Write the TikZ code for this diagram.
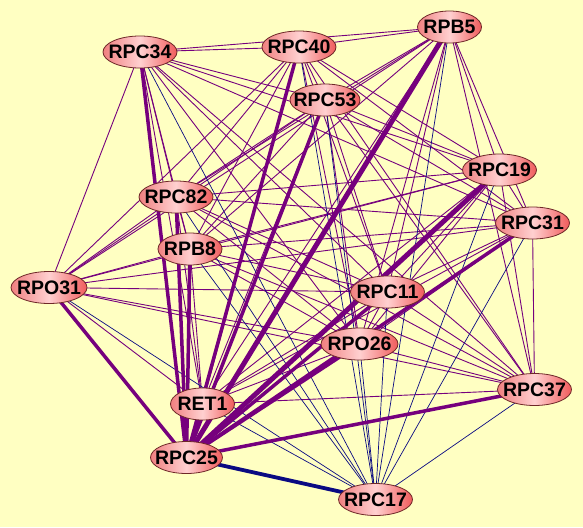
\documentclass[tikz,border=0pt]{standalone}
\usepackage{fontspec}
\setmainfont{Liberation Sans}
\usetikzlibrary{shapes.geometric,backgrounds}
\definecolor{bgy}{RGB}{255,255,194}
\definecolor{edgep}{RGB}{118,0,125}
\definecolor{edgeb}{RGB}{10,10,130}
\definecolor{nbord}{RGB}{110,40,40}
\definecolor{nl}{RGB}{240,128,128}
\definecolor{nm}{RGB}{255,208,208}
\definecolor{nr}{RGB}{240,92,92}
\begin{document}
\begin{tikzpicture}[x=1pt,y=-1pt,
 gn/.style={ellipse, draw=nbord, line width=0.8pt, left color=nl, right color=nr, middle color=nm,
   minimum width=74pt, minimum height=32pt, inner sep=0pt, font=\fontsize{19.5}{19.5}\selectfont\bfseries},
 gs/.style={gn, minimum width=64pt},
 thinp/.style={draw=edgep, line width=0.9pt},
 thickp/.style={draw=edgep, line width=3.5pt},
 thinb/.style={draw=edgeb, line width=0.7pt},
 thickb/.style={draw=edgeb, line width=3.8pt}]
\useasboundingbox (0,0) rectangle (583,527);
\node[gn] (c34) at (140,52)    {\makebox[0pt]{RPC34}};
\node[gn] (c40) at (299,47)    {\makebox[0pt]{RPC40}};
\node[gs] (b5)  at (449.5,27)  {\makebox[0pt]{RPB5}};
\node[gn, minimum width=70pt] (c53) at (325,100) {\makebox[0pt]{RPC53}};
\node[gn] (c19) at (499.5,170) {\makebox[0pt]{RPC19}};
\node[gn] (c82) at (176,197)   {\makebox[0pt]{RPC82}};
\node[gn] (c31) at (532.5,223) {\makebox[0pt]{RPC31}};
\node[gs] (b8)  at (190,249)   {\makebox[0pt]{RPB8}};
\node[gn, minimum width=76pt] (o31) at (49,287.5) {\makebox[0pt]{RPO31}};
\node[gn] (c11) at (387.5,292) {\makebox[0pt]{RPC11}};
\node[gn, minimum width=77pt] (o26) at (359.5,344) {\makebox[0pt]{RPO26}};
\node[gn] (c37) at (534.5,389.5) {\makebox[0pt]{RPC37}};
\node[gs] (e1)  at (202.5,404) {\makebox[0pt]{RET1}};
\node[gn, minimum width=72pt] (c25) at (186.5,457.5) {\makebox[0pt]{RPC25}};
\node[gn] (c17) at (375.5,499.5) {\makebox[0pt]{RPC17}};
\begin{scope}[on background layer]
\fill[bgy] (0,0) rectangle (583,527);
\foreach \a [count=\i] in {c34,c40,b5,c53,c19,c82,c31,b8,o31,c11,o26,c37,e1}{
  \foreach \b [count=\j] in {c34,c40,b5,c53,c19,c82,c31,b8,o31,c11,o26,c37,e1}{
    \ifnum\j>\i \draw[thinp] (\a.center) -- (\b.center); \fi
  }
}
\foreach \a in {c34,c40,b5,c53,c19,c82,c31,b8,o31,c11,o26,c37,e1}{
  \draw[thinb] (\a.center) -- (c17.center);
}
\foreach \a in {c34,c40,c53,c31,c37,o31,c82,b8,e1,c11,o26}{
  \draw[thickp] (\a.center) -- (c25.center);
}
\draw[thickp, line width=5pt] (b5.center) -- (c25.center);
\draw[thickp, line width=5pt] (c19.center) -- (c25.center);
\draw[thickb] (c25.center) -- (c17.center);
\end{scope}
\end{tikzpicture}
\end{document}
